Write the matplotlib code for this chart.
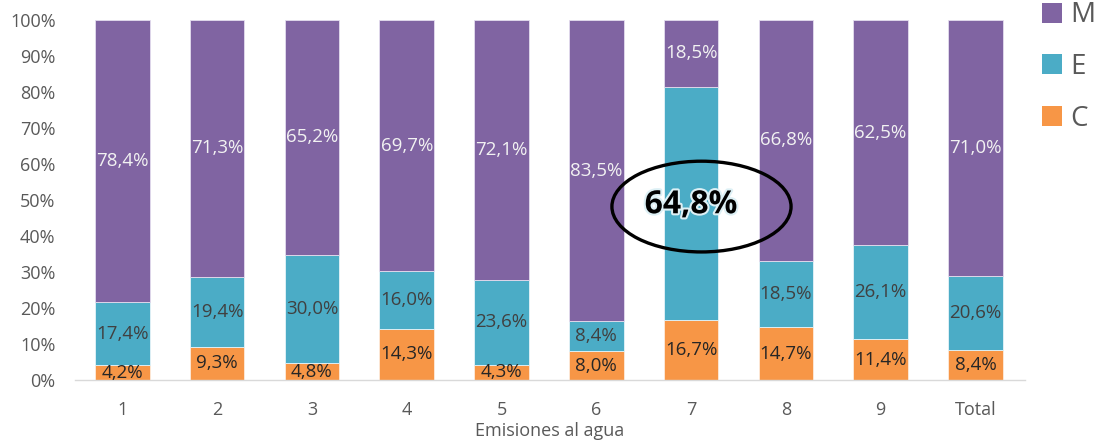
import matplotlib
matplotlib.use("Agg")
import matplotlib.pyplot as plt
from matplotlib.patches import Ellipse, Patch
import matplotlib.patheffects as pe
import numpy as np

plt.rcParams['font.family'] = ['Open Sans', 'DejaVu Sans']

categories = ["1", "2", "3", "4", "5", "6", "7", "8", "9", "Total"]
c_vals = [4.2, 9.3, 4.8, 14.3, 4.3, 8.0, 16.7, 14.7, 11.4, 8.4]
e_vals = [17.4, 19.4, 30.0, 16.0, 23.6, 8.4, 64.8, 18.5, 26.1, 20.6]
m_vals = [78.4, 71.3, 65.2, 69.7, 72.1, 83.5, 18.5, 66.8, 62.5, 71.0]
y_ticks = [0, 10, 20, 30, 40, 50, 60, 70, 80, 90, 100]
highlight_idx = 6  # bar whose E share is called out

col_c = "#F79646"
col_e = "#4BACC6"
col_m = "#8064A2"

fig = plt.figure(figsize=(11.03, 4.4), dpi=100)
ax = fig.add_axes([0.068, 0.136, 0.861, 0.8185])

x = np.arange(len(categories))
w = 0.575
c = np.array(c_vals)
e = np.array(e_vals)
m = np.array(m_vals)

ax.bar(x, c, w, color=col_c, edgecolor="#FDEBDC", linewidth=0.6, label="C")
ax.bar(x, e, w, bottom=c, color=col_e, edgecolor="#E6F4F8", linewidth=0.6, label="E")
ax.bar(x, m, w, bottom=c + e, color=col_m, edgecolor="#E4DDEE", linewidth=0.6, label="M")


def fmt(v):
    return f"{v:.1f}%".replace(".", ",")


lab_fs = 13.5
for i in range(len(categories)):
    ax.text(x[i], c[i] / 2, fmt(c[i]), ha="center", va="center",
            fontsize=lab_fs, color="#262626")
    if i != highlight_idx:
        ax.text(x[i], c[i] + e[i] / 2, fmt(e[i]), ha="center", va="center",
                fontsize=lab_fs, color="#404040")
    ax.text(x[i], c[i] + e[i] + m[i] / 2, fmt(m[i]), ha="center", va="center",
            fontsize=lab_fs, color="#F2F2F2")

# Called-out value with ring
hx = x[highlight_idx]
hy = c[highlight_idx] + e[highlight_idx] / 2
ax.text(hx, hy - 0.4, fmt(e[highlight_idx]), ha="center", va="center",
        fontsize=23, fontweight="bold", color="black",
        path_effects=[pe.withStroke(linewidth=3, foreground="#DDF0F5")])
ax.add_patch(Ellipse((hx + 0.11, hy - 0.9), 1.89, 25.2, fill=False,
                     edgecolor="black", linewidth=2.4, zorder=5))

ax.set_xlim(-0.5, 9.52)
ax.set_ylim(0, 100)
ax.set_xticks(x)
ax.set_xticklabels(categories)
ax.set_yticks(y_ticks)
ax.set_yticklabels([f"{t}%" for t in y_ticks])
ax.tick_params(axis="both", length=0, labelsize=13, colors="#595959")
ax.tick_params(axis="x", pad=15)
ax.tick_params(axis="y", pad=14)

for side in ["top", "right", "left"]:
    ax.spines[side].set_visible(False)
ax.spines["bottom"].set_color("#D9D9D9")
ax.spines["bottom"].set_linewidth(1.0)

ax.set_xlabel("Emisiones al agua", fontsize=13, color="#595959", labelpad=2)

handles = [Patch(facecolor=col_m, edgecolor="none"),
           Patch(facecolor=col_e, edgecolor="none"),
           Patch(facecolor=col_c, edgecolor="none")]
fig.legend(handles, ["M", "E", "C"], loc="upper left",
           bbox_to_anchor=(0.945, 0.997), frameon=False, fontsize=20,
           labelcolor="#595959", handlelength=0.72, handleheight=0.72,
           handletextpad=0.3, labelspacing=0.85, borderpad=0,
           borderaxespad=0)

fig.savefig("out.png", dpi=100)
